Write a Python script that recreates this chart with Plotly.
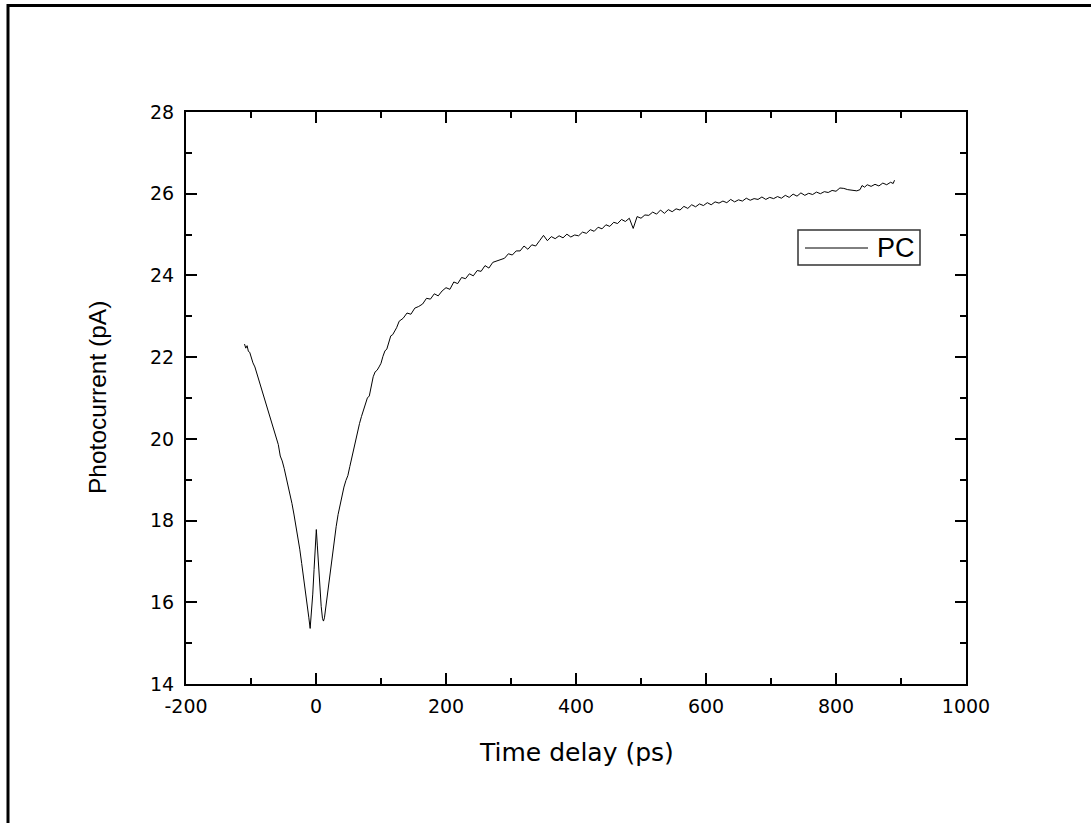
import plotly.graph_objects as go

# Time delay (ps) and photocurrent (pA)
delay_dip = [-110, -108, -106, -104, -102, -100, -97, -94, -91, -88, -85, -82, -79, -76, -73, -70,
             -67, -64, -61, -58, -55, -52, -49, -46, -43, -40, -37, -34, -31, -28, -25, -22,
             -19, -16, -13, -11, -9, -7, -5, -3, -1, 0.5, 2, 4, 6, 8, 10, 11.5, 13, 15, 17, 19,
             22, 25, 28, 31, 34, 37, 40, 43, 46, 49, 52, 55, 58, 61, 64, 67, 70, 73, 76, 79,
             82, 85, 88, 91, 94, 97, 100, 103, 106, 109, 112, 115, 118, 121, 124]
current_dip = [22.32, 22.22, 22.28, 22.14, 22.12, 22.0, 21.86, 21.76, 21.6, 21.5, 21.32, 21.12, 21.0, 20.84, 20.7, 20.5,
               20.36, 20.2, 20.0, 19.86, 19.58, 19.46, 19.28, 19.08, 18.84, 18.68, 18.42, 18.16, 17.9, 17.62, 17.3, 16.95,
               16.62, 16.25, 15.9, 15.62, 15.36, 15.75, 16.2, 16.8, 17.4, 17.78, 17.4, 16.85, 16.3, 15.9, 15.6, 15.54, 15.62, 15.88, 16.1, 16.32,
               16.7, 17.1, 17.5, 17.85, 18.15, 18.4, 18.62, 18.82, 18.98, 19.1, 19.32, 19.55, 19.75, 20.0, 20.18, 20.38, 20.55, 20.72, 20.88, 21.0,
               21.05, 21.3, 21.52, 21.64, 21.68, 21.76, 21.85, 22.02, 22.15, 22.2, 22.38, 22.52, 22.55, 22.62, 22.72]

delay_rise = [128, 134, 140, 146, 152, 158, 164, 170, 176, 182, 188, 194, 200, 206, 212, 218, 224, 230, 236, 242,
              248, 254, 260, 266, 272, 278, 284, 290, 296, 302, 308, 314, 320, 326, 332, 338, 344, 350, 356, 362,
              368, 374, 380, 386, 392, 398, 404, 410, 416, 422, 428, 434, 440, 446, 452, 458, 464, 470, 476, 482,
              488, 494, 500, 506, 512, 518, 524, 530, 536, 542, 548, 554, 560, 566, 572, 578, 584, 590, 596, 602,
              608, 614, 620, 626, 632, 638, 644, 650, 656, 662, 668, 674, 680, 686, 692, 698, 704, 710, 716, 722,
              728, 734, 740, 746, 752, 758, 764, 770, 776, 782, 788, 794, 800, 806, 812, 818, 832, 837, 840, 844,
              848, 854, 860, 866, 872, 878, 884, 888, 890]
current_rise = [22.88, 22.95, 23.08, 23.05, 23.2, 23.24, 23.3, 23.44, 23.42, 23.55, 23.5, 23.62, 23.7, 23.66, 23.84, 23.8,
                23.95, 23.92, 24.04, 23.99, 24.12, 24.1, 24.24, 24.18, 24.32, 24.36, 24.4, 24.42, 24.53, 24.5, 24.6, 24.6,
                24.72, 24.64, 24.75, 24.72, 24.85, 24.98, 24.85, 24.95, 24.9, 24.97, 24.92, 25.01, 24.94, 24.99, 24.97, 25.06,
                25.03, 25.12, 25.08, 25.18, 25.14, 25.24, 25.2, 25.3, 25.27, 25.37, 25.32, 25.4, 25.15, 25.44, 25.4, 25.48,
                25.47, 25.55, 25.5, 25.6, 25.52, 25.61, 25.56, 25.63, 25.6, 25.69, 25.64, 25.73, 25.68, 25.75, 25.71, 25.78,
                25.73, 25.8, 25.77, 25.82, 25.78, 25.86, 25.8, 25.85, 25.82, 25.89, 25.84, 25.88, 25.86, 25.92, 25.86, 25.91,
                25.88, 25.93, 25.89, 25.96, 25.91, 25.99, 25.94, 26.02, 25.96, 26.01, 25.98, 26.04, 26.0, 26.05, 26.03, 26.08,
                26.06, 26.14, 26.13, 26.1, 26.07, 26.1, 26.2, 26.16, 26.22, 26.18, 26.23, 26.19, 26.26, 26.22, 26.28, 26.25, 26.33]

trace_name = "PC"
x_ticks = [-200, 0, 200, 400, 600, 800, 1000]
x_tick_text = ["-200", "0", "200", "400", "600", "800", "1000"]
y_ticks = [14, 16, 18, 20, 22, 24, 26, 28]
y_tick_text = ["14", "16", "18", "20", "22", "24", "26", "28"]

W, H = 1091, 823
L, R, T, B = 186, 966, 112, 684

def px(x):
    return (x - L) / (R - L)

def py(y):
    return (B - y) / (B - T)

fig = go.Figure()
fig.add_trace(go.Scatter(x=delay_dip + delay_rise, y=current_dip + current_rise, mode="lines",
                         name=trace_name, line=dict(color="black", width=1), showlegend=False))

wide_font = "DejaVu Sans, sans-serif"
arial = "Liberation Sans, Arial, sans-serif"
axis_common = dict(showline=True, linecolor="black", linewidth=2, mirror="allticks",
                   ticks="inside", ticklen=11, tickwidth=2, tickcolor="black",
                   showgrid=False, zeroline=False,
                   tickfont=dict(family=wide_font, size=19, color="black"),
                   minor=dict(ticks="inside", ticklen=6, tickwidth=2, tickcolor="black", showgrid=False))

fig.update_xaxes(range=[-200, 1000], tickvals=x_ticks, ticktext=x_tick_text, ticklabelstandoff=4,
                 minor_dtick=100, **axis_common)
fig.update_yaxes(range=[14, 28], tickvals=y_ticks, ticktext=y_tick_text, ticklabelstandoff=6,
                 minor_dtick=1, **axis_common)

fig.update_layout(
    width=W, height=H,
    margin=dict(l=L, r=W - R, t=T, b=H - B, pad=0),
    paper_bgcolor="white", plot_bgcolor="white",
    showlegend=False,
    annotations=[
        dict(text="Time delay (ps)", x=px(576), y=py(752), xref="paper", yref="paper",
             showarrow=False, xanchor="center", yanchor="middle",
             font=dict(family=wide_font, size=25, color="black")),
        dict(text="Photocurrent (pA)", x=px(97), y=py(398), xref="paper", yref="paper",
             showarrow=False, xanchor="center", yanchor="middle", textangle=-90,
             font=dict(family=arial, size=24.5, color="black")),
        # legend label
        dict(text=trace_name, x=px(875), y=py(248), xref="paper", yref="paper",
             showarrow=False, xanchor="left", yanchor="middle",
             font=dict(family=arial, size=27, color="black")),
    ],
    shapes=[
        # outer frame
        dict(type="rect", xref="paper", yref="paper", x0=px(8), x1=px(1110), y0=py(840), y1=py(5.5),
             line=dict(color="black", width=3), fillcolor="rgba(0,0,0,0)", layer="above"),
        # legend box and sample line
        dict(type="rect", xref="paper", yref="paper", x0=px(798), x1=px(920), y0=py(265), y1=py(230),
             line=dict(color="#333333", width=1.5), fillcolor="white", layer="above"),
        dict(type="line", xref="paper", yref="paper", x0=px(805), x1=px(868), y0=py(248), y1=py(248),
             line=dict(color="black", width=1), layer="above"),
    ],
)

fig.write_html("out.html", config={"displayModeBar": False},
               post_script="document.body.style.margin='0';document.body.style.overflow='hidden';")
